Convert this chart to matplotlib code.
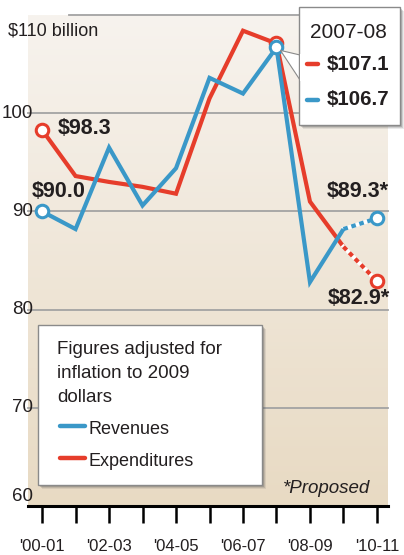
import numpy as np
import matplotlib
matplotlib.use("Agg")
from matplotlib import pyplot as plt
from matplotlib.patches import Rectangle, Polygon
from matplotlib.colors import LinearSegmentedColormap

plt.rcParams['font.family'] = ['Liberation Sans', 'DejaVu Sans']

# fiscal years, 2000-01 .. 2010-11
years = ["'00-01", "'01-02", "'02-03", "'03-04", "'04-05", "'05-06",
         "'06-07", "'07-08", "'08-09", "'09-10", "'10-11"]
revenues = [90.0, 88.2, 96.5, 90.6, 94.4, 103.6, 102.0, 106.7, 82.8, 88.2, 89.3]
expenditures = [98.3, 93.6, 93.0, 92.5, 91.8, 101.5, 108.4, 107.1, 91.0, 86.4, 82.9]
proposed_from = 9  # last segment (to 2010-11) is proposed
yticks = [60, 70, 80, 90, 100, 110]
callout_year = '2007-08'
callout_idx = 7
note_lines = ['Figures adjusted for', 'inflation to 2009', 'dollars']

RED = '#e63d2b'
BLUE = '#3a98c8'
INK = '#231f20'
GRID = '#a3a3a3'

W, H = 404, 555
fig = plt.figure(figsize=(W / 100, H / 100), dpi=100)
fig.patch.set_facecolor('white')


def fx(px):
    return px / W


def fy(py):
    return 1 - py / H


ax = fig.add_axes([fx(28), fy(506), fx(388) - fx(28), fy(15) - fy(506)])
ax.set_xlim(-0.42, 10.33)
ax.set_ylim(60, 110)

# beige gradient background
cmap = LinearSegmentedColormap.from_list('bg', ['#e8dac3', '#f7f3ee'])
grad = np.linspace(0, 1, 256).reshape(-1, 1)
ax.imshow(grad, cmap=cmap, aspect='auto', origin='lower',
          extent=[-0.42, 10.33, 60, 110], zorder=0)

for s in ['left', 'right', 'top']:
    ax.spines[s].set_visible(False)
ax.spines['bottom'].set_linewidth(2.2)
ax.spines['bottom'].set_color('black')
ax.spines['bottom'].set_zorder(5)

# gridlines
for v in yticks[1:]:
    x0 = 0.8 if v == 110 else -0.42
    ax.plot([x0, 10.33], [v, v], color=GRID, lw=1.3, zorder=1, clip_on=False)

# y labels
for v in yticks:
    if v == 110:
        fig.text(fx(8), fy(31), '$110 billion', fontsize=13, color=INK,
                 ha='left', va='center')
    else:
        ypos = v + 1.0 if v == 60 else v
        ax.text(-0.27, ypos, str(v), fontsize=13.5, color=INK, ha='right',
                va='center', zorder=6)

ax.set_yticks([])
x = np.arange(len(years))
ax.set_xticks(x)
ax.set_xticklabels([y if i % 2 == 0 else '' for i, y in enumerate(years)],
                   fontsize=12, color=INK)
ax.tick_params(axis='x', length=12, width=1.8, color='black', pad=12)

lw = 3.0
# solid parts
n = proposed_from + 1
ax.plot(x[:n], expenditures[:n], color=RED, lw=lw, zorder=3,
        solid_joinstyle='miter', solid_capstyle='butt')
ax.plot(x[:n], revenues[:n], color=BLUE, lw=lw, zorder=4,
        solid_joinstyle='miter', solid_capstyle='butt')
# proposed (dotted) parts
for series, c in [(expenditures, RED), (revenues, BLUE)]:
    ax.plot(x[proposed_from:], series[proposed_from:], color='white', lw=lw, zorder=3)
    ax.plot(x[proposed_from:], series[proposed_from:], color=c, lw=lw, zorder=3,
            dashes=(1.1, 0.9), dash_capstyle='butt')

# endpoint markers
for i in [0, callout_idx, len(x) - 1]:
    ax.plot(x[i], expenditures[i], 'o', ms=9, mfc='white', mec=RED, mew=2.2, zorder=6)
    ax.plot(x[i], revenues[i], 'o', ms=9, mfc='white', mec=BLUE, mew=2.2, zorder=7)

bold = dict(fontsize=15.5, fontweight='bold', color=INK, zorder=8)
ax.annotate(f'${expenditures[0]}', (x[0], expenditures[0]), xytext=(16, 1),
            textcoords='offset pixels', ha='left', va='center', **bold)
ax.annotate(f'${revenues[0]:.1f}', (x[0], revenues[0]), xytext=(-10, 20),
            textcoords='offset pixels', ha='left', va='center', **bold)
ax.annotate(f'${revenues[-1]}*', (x[-1], revenues[-1]), xytext=(12, 27),
            textcoords='offset pixels', ha='right', va='center', **bold)
ax.annotate(f'${expenditures[-1]}*', (x[-1], expenditures[-1]), xytext=(13, -17),
            textcoords='offset pixels', ha='right', va='center', **bold)

ax.text(9.8, 61.8, '*Proposed', fontsize=13.5, style='italic', color=INK,
        ha='right', va='center', zorder=6)


def shadow_box(x0, y0, x1, y1, zorder):
    for off, a in [(4, 0.12), (3, 0.18), (2, 0.25)]:
        fig.patches.append(Rectangle((fx(x0 + off), fy(y1 + off)),
                                     fx(x1) - fx(x0), fy(y0) - fy(y1),
                                     transform=fig.transFigure, facecolor='#555555',
                                     edgecolor='none', alpha=a, zorder=zorder))
    fig.patches.append(Rectangle((fx(x0), fy(y1)), fx(x1) - fx(x0), fy(y0) - fy(y1),
                                 transform=fig.transFigure, facecolor='white',
                                 edgecolor='#8a8a8a', lw=1.0, zorder=zorder + 0.1))


# legend box
shadow_box(38, 325, 262, 485, 10)
for k, line in enumerate(note_lines):
    fig.text(fx(57), fy(349 + 24 * k), line, fontsize=13.5, color=INK,
             ha='left', va='center', zorder=12)
for py, c, lab in [(426, BLUE, 'Revenues'), (458, RED, 'Expenditures')]:
    fig.lines.append(plt.Line2D([fx(60), fx(85)], [fy(py), fy(py)], color=c, lw=3.2,
                                solid_capstyle='round', transform=fig.transFigure,
                                zorder=12))
    fig.text(fx(89), fy(py + 3), lab, fontsize=13, color=INK, ha='left', va='center',
             zorder=12)

# callout for 2007-08
shadow_box(299, 7, 400, 125, 20)
tip = ax.transData.transform((x[callout_idx], revenues[callout_idx]))
base1 = fig.transFigure.transform((fx(300), fy(55)))
base2 = fig.transFigure.transform((fx(300), fy(80)))
fig.patches.append(Polygon([tip + [4, -3], base1, base2], closed=True,
                           transform=None, facecolor='white', edgecolor='#8a8a8a',
                           lw=0.8, zorder=20.05))
fig.patches.append(Rectangle((fx(299.6), fy(81)), fx(2), fy(54) - fy(81),
                             transform=fig.transFigure, facecolor='white',
                             edgecolor='none', zorder=20.2))
fig.text(fx(348), fy(33), callout_year, fontsize=15, color=INK,
         ha='center', va='center', zorder=22)
for py, c, v in [(64, RED, expenditures[callout_idx]), (100, BLUE, revenues[callout_idx])]:
    fig.lines.append(plt.Line2D([fx(307), fx(318)], [fy(py), fy(py)], color=c, lw=3.2,
                                solid_capstyle='round', transform=fig.transFigure,
                                zorder=22))
    fig.text(fx(389), fy(py), f'${v}', fontsize=14.8, fontweight='bold', color=INK,
             ha='right', va='center', zorder=22)

fig.savefig('out.png', dpi=100)
